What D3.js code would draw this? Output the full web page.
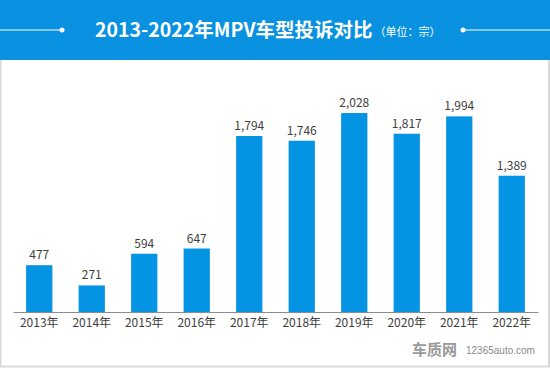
<!doctype html>
<html>
<head>
<meta charset="utf-8">
<script src="https://d3js.org/d3.v7.min.js"></script>
<style>
  body { margin: 0; background: #fff; }
  svg { display: block; font-family: "Noto Sans CJK SC", "Noto Sans", sans-serif; }
</style>
</head>
<body>
<script>
// chart data
var years = ["2013年", "2014年", "2015年", "2016年", "2017年", "2018年", "2019年", "2020年", "2021年", "2022年"];
var complaints = [477, 271, 594, 647, 1794, 1746, 2028, 1817, 1994, 1389];
var titleText = "2013-2022年MPV车型投诉对比";
var unitText = "（单位：宗）";

var W = 550, H = 368;

var svg = d3.select("body").append("svg")
  .attr("width", W)
  .attr("height", H);

// striped header pattern
var defs = svg.append("defs");
var pat = defs.append("pattern")
  .attr("id", "stripes")
  .attr("patternUnits", "userSpaceOnUse")
  .attr("width", 4).attr("height", 4)
  .attr("patternTransform", "rotate(45)");
pat.append("rect").attr("width", 4).attr("height", 4).attr("fill", "#0892e1");
pat.append("rect").attr("width", 1).attr("height", 4).attr("fill", "#0a8fdc");

// body frame
svg.append("rect")
  .attr("x", 0.5).attr("y", 0.5)
  .attr("width", W - 1.5).attr("height", H - 2)
  .attr("fill", "#fff")
  .attr("stroke", "#d9d9d9")
  .attr("stroke-width", 2);

// header band
svg.append("rect")
  .attr("x", 0).attr("y", 0)
  .attr("width", W).attr("height", 60)
  .attr("fill", "url(#stripes)");

// header lines with dots
var hy = 30;
svg.append("line").attr("x1", 0).attr("x2", 62).attr("y1", hy).attr("y2", hy)
  .attr("stroke", "#fff").attr("stroke-width", 1);
svg.append("circle").attr("cx", 62).attr("cy", hy).attr("r", 2.5).attr("fill", "#fff");
svg.append("line").attr("x1", 463).attr("x2", W).attr("y1", hy).attr("y2", hy)
  .attr("stroke", "#fff").attr("stroke-width", 1);
svg.append("circle").attr("cx", 463).attr("cy", hy).attr("r", 2.5).attr("fill", "#fff");

// title + unit as one text
var title = svg.append("text")
  .attr("x", 95).attr("y", hy + 7)
  .attr("fill", "#fff");
title.append("tspan")
  .attr("font-size", 19.5).attr("font-weight", "bold")
  .text(titleText);
title.append("tspan")
  .attr("font-size", 11)
  .attr("dx", 2).attr("dy", -1)
  .text(unitText);

// scales
var x = d3.scaleBand()
  .domain(years)
  .range([13, 538])
  .paddingInner(0.5)
  .paddingOuter(0.25);

var y = d3.scaleLinear()
  .domain([0, 1794])
  .range([312, 136]);

// bars
svg.append("g").selectAll("rect")
  .data(complaints)
  .join("rect")
  .attr("x", function(d, i) { return x(years[i]); })
  .attr("y", function(d) { return y(d); })
  .attr("width", x.bandwidth())
  .attr("height", function(d) { return y(0) - y(d); })
  .attr("fill", "#0593e3");

// value labels
svg.append("g").selectAll("text")
  .data(complaints)
  .join("text")
  .attr("x", function(d, i) { return x(years[i]) + x.bandwidth() / 2; })
  .attr("y", function(d) { return y(d) - 6; })
  .attr("text-anchor", "middle")
  .attr("font-size", 12)
  .attr("fill", "#404040")
  .text(function(d) { return d3.format(",")(d); });

// x axis
var xAxis = d3.axisBottom(x).tickSize(0).tickPadding(6);
var ax = svg.append("g")
  .attr("transform", "translate(0," + y(0) + ")")
  .call(xAxis);
ax.select(".domain").attr("stroke", "#8c8c8c").attr("stroke-width", 1.2);
ax.selectAll("text")
  .attr("font-size", 12)
  .attr("font-family", "'Noto Sans CJK SC', sans-serif")
  .attr("fill", "#404040");

// watermark
svg.append("text")
  .attr("x", 412).attr("y", 355)
  .attr("font-size", 15).attr("font-weight", "bold")
  .attr("fill", "#9a9a9a")
  .text("车质网");
svg.append("text")
  .attr("x", 466).attr("y", 354)
  .attr("font-size", 10)
  .attr("font-family", "Arial, 'Liberation Sans', sans-serif")
  .attr("fill", "#8a8a8a")
  .text("12365auto.com");
</script>
</body>
</html>
